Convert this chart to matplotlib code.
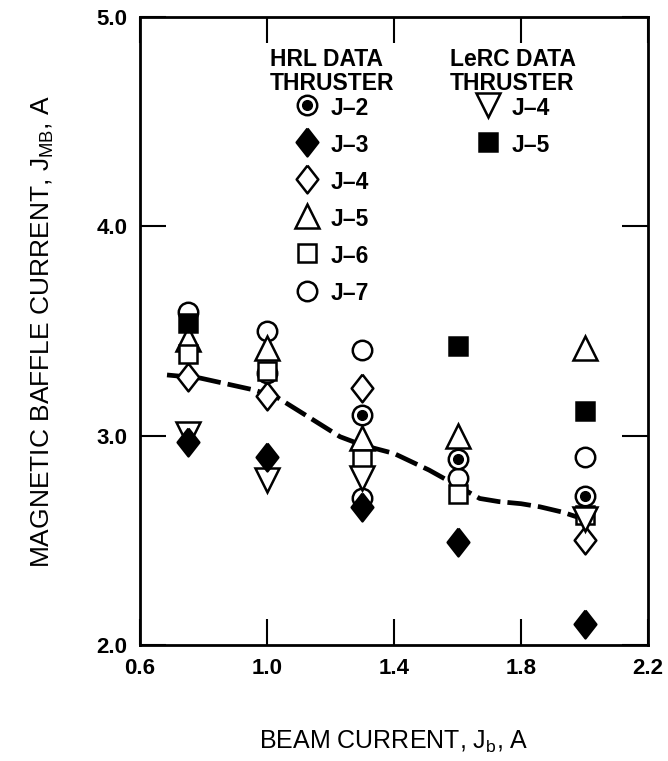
import matplotlib
matplotlib.use('Agg')
import matplotlib.pyplot as plt
from matplotlib.legend_handler import HandlerTuple

plt.rcParams['font.family'] = ['Liberation Sans', 'DejaVu Sans']
plt.rcParams['mathtext.fontset'] = 'custom'
plt.rcParams['mathtext.rm'] = 'Liberation Sans'
plt.rcParams['mathtext.it'] = 'Liberation Sans'

# HRL data, by thruster
hrl_j2_x = [1.0, 1.3, 1.6, 2.0]
hrl_j2_y = [3.30, 3.10, 2.89, 2.71]
hrl_j3_x = [0.75, 1.0, 1.3, 1.6, 2.0]
hrl_j3_y = [2.97, 2.90, 2.66, 2.49, 2.10]
hrl_j4_x = [0.75, 1.0, 1.3, 2.0]
hrl_j4_y = [3.28, 3.19, 3.23, 2.50]
hrl_j5_x = [0.75, 1.0, 1.3, 1.6, 2.0]
hrl_j5_y = [3.46, 3.42, 2.99, 3.00, 3.42]
hrl_j6_x = [0.75, 1.0, 1.3, 1.6, 2.0]
hrl_j6_y = [3.39, 3.31, 2.89, 2.72, 2.62]
hrl_j7_x = [0.75, 1.0, 1.3, 1.3, 1.6, 2.0]
hrl_j7_y = [3.59, 3.50, 3.41, 2.70, 2.80, 2.90]

# LeRC data, by thruster
lerc_j4_x = [0.75, 1.0, 1.3, 2.0]
lerc_j4_y = [3.01, 2.79, 2.80, 2.60]
lerc_j5_x = [0.75, 1.6, 2.0]
lerc_j5_y = [3.54, 3.43, 3.12]

# faired dashed curve
fit_x = [0.685, 0.79, 0.96, 1.036, 1.13, 1.23, 1.30, 1.40, 1.51, 1.60, 1.67,
         1.73, 1.80, 1.86, 1.93, 2.0]
fit_y = [3.29, 3.275, 3.218, 3.179, 3.09, 2.995, 2.955, 2.915, 2.836, 2.76, 2.70,
         2.685, 2.675, 2.66, 2.635, 2.60]

x_ticks = [0.6, 1.0, 1.4, 1.8, 2.2]
y_ticks = [2.0, 3.0, 4.0, 5.0]

# tall diamond
diamond = [(0, 1), (0.78, 0), (0, -1), (-0.78, 0), (0, 1)]

fig = plt.figure(figsize=(6.68, 7.61), dpi=100)
ax = fig.add_axes([0.2096, 0.1524, 0.7605, 0.8253])

ax.plot(fit_x, fit_y, color='black', lw=3.4, dashes=(5.0, 1.5), zorder=2)

ew = 1.8
open_kw = dict(ls='none', mfc='white', mec='black', mew=ew, zorder=3)
fill_kw = dict(ls='none', mfc='black', mec='black', mew=ew, zorder=3)

h7, = ax.plot(hrl_j7_x, hrl_j7_y, marker='o', ms=14, **open_kw)
h5, = ax.plot(hrl_j5_x, hrl_j5_y, marker='^', ms=17, **open_kw)
h4, = ax.plot(hrl_j4_x, hrl_j4_y, marker=diamond, ms=20, **open_kw)
h2a, = ax.plot(hrl_j2_x, hrl_j2_y, marker='o', ms=14, **open_kw)
h2b, = ax.plot(hrl_j2_x, hrl_j2_y, marker='o', ms=7, ls='none', color='black', zorder=3)
h6, = ax.plot(hrl_j6_x, hrl_j6_y, marker='s', ms=13, **open_kw)
l4, = ax.plot(lerc_j4_x, lerc_j4_y, marker='v', ms=17, **open_kw)
l5, = ax.plot(lerc_j5_x, lerc_j5_y, marker='s', ms=13, **fill_kw)
h3, = ax.plot(hrl_j3_x, hrl_j3_y, marker=diamond, ms=20, **fill_kw)

ax.set_xlim(0.6, 2.2)
ax.set_ylim(2.0, 5.0)
ax.set_xticks(x_ticks)
ax.set_xticklabels([f'{v:.1f}' for v in x_ticks], fontweight='bold')
ax.set_yticks(y_ticks)
ax.set_yticklabels([f'{v:.1f}' for v in y_ticks], fontweight='bold')
ax.tick_params(direction='in', length=19, width=1.5, top=True, right=True,
               labelsize=16, pad=9)
for s in ax.spines.values():
    s.set_linewidth(2)

ax.set_xlabel(r'BEAM CURRENT, J$_{\rm b}$, A', fontsize=18, labelpad=36)
ax.set_ylabel(r'MAGNETIC BAFFLE CURRENT, J$_{\rm MB}$, A', fontsize=19, labelpad=29)

leg_font = {'size': 16.5, 'weight': 'bold'}
leg_kw = dict(frameon=False, prop=leg_font, title_fontproperties=leg_font,
              handletextpad=0.5, labelspacing=0.55, handleheight=1.21,
              borderpad=0, borderaxespad=0, handlelength=1.1,
              handler_map={tuple: HandlerTuple(ndivide=1)})

hrl = ax.legend([(h2a, h2b), h3, h4, h5, h6, h7],
                ['J–2', 'J–3', 'J–4', 'J–5', 'J–6', 'J–7'],
                title='HRL DATA\nTHRUSTER', loc='upper center',
                bbox_to_anchor=(0.378, 0.95), **leg_kw)
ax.add_artist(hrl)

lerc = ax.legend([l4, l5], ['J–4', 'J–5'],
                 title='LeRC DATA\nTHRUSTER', loc='upper center',
                 bbox_to_anchor=(0.734, 0.95), **leg_kw)

# tighter title block than labelspacing gives
for leg in (hrl, lerc):
    leg.get_title().set_linespacing(1.04)
    leg._legend_box.sep = 0

fig.savefig('out.png', dpi=100)
